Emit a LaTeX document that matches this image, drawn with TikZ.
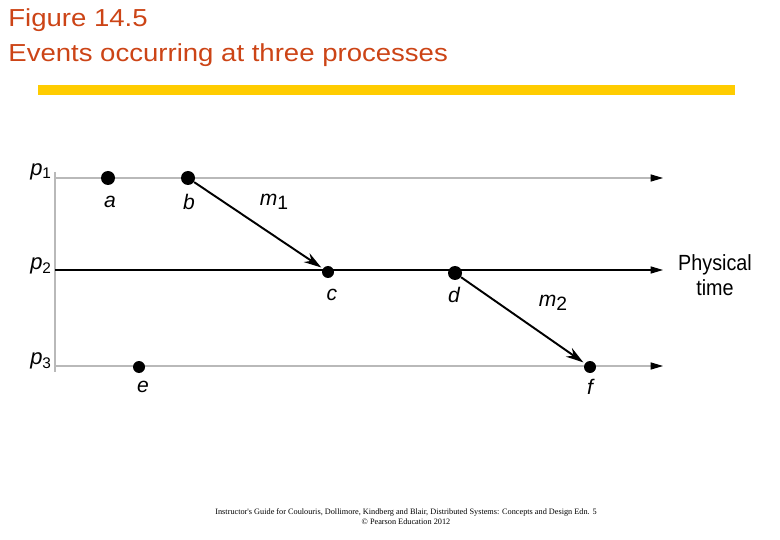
\documentclass[tikz,border=0pt]{standalone}
\usepackage{fontspec}
\setmainfont{Liberation Sans}
\newfontfamily\footfont{Liberation Serif}
\usepackage{xcolor}
\usetikzlibrary{arrows.meta}
\definecolor{titlered}{RGB}{204,68,22}
\definecolor{baryellow}{RGB}{255,204,0}
\definecolor{linegray}{RGB}{185,185,185}

\begin{document}
\begin{tikzpicture}[x=0.02cm,y=-0.02cm,
        heading/.style={anchor=base west,inner sep=0pt,text=titlered,xscale=1.12,font=\fontsize{14}{15}\selectfont},
        event/.style={circle,fill=black,inner sep=0pt,minimum size=14*0.02cm},
        smallevent/.style={event,minimum size=12*0.02cm},
        evlabel/.style={font=\fontsize{12}{12}\selectfont\itshape},
        proc/.style={font=\fontsize{12.5}{12}\selectfont\itshape,anchor=east,inner sep=1pt},
        timeline/.style={line width=0.6pt,-{Triangle[length=7pt,width=4pt,color=black]}},
        msg/.style={line width=1.1pt,-{Stealth[length=10pt,width=6pt]},shorten >=1pt}]
    \useasboundingbox (0,0) rectangle (780,540);
    % heading
    \node[heading] (fig) at (8,27) {Figure 14.5};
    \node[heading] (events) at (8,62) {Events occurring at three processes};
    \fill[baryellow] (38,85) rectangle (735,95);
    % processes
    \coordinate (top) at (55,172);
    \coordinate (bot) at (55,372);
    \draw[linegray,line width=0.6pt] (top) -- (bot);
    \coordinate (s1) at (55,178);
    \coordinate (e1) at (663,178);
    \coordinate (s2) at (55,270);
    \coordinate (e2) at (663,270);
    \coordinate (s3) at (55,366);
    \coordinate (e3) at (663,366);
    \draw[timeline,linegray] (s1) -- (e1);
    \draw[timeline,black] (s2) -- (e2);
    \draw[timeline,linegray] (s3) -- (e3);
    \node[proc] (p1) at (54,172) {$\mathit{p}_{\mathrm{1}}$};
    \node[proc] (p2) at (54,266) {$\mathit{p}_{\mathrm{2}}$};
    \node[proc] (p3) at (54,361) {$\mathit{p}_{\mathrm{3}}$};
    % events
    \node[event] (a) at (108,178) {};
    \node[event] (b) at (188,178) {};
    \node[smallevent] (c) at (328,272) {};
    \node[event] (d) at (455,273) {};
    \node[smallevent] (e) at (139,367) {};
    \node[smallevent] (f) at (590,367) {};
    \node[evlabel] (la) at (110,202) {a};
    \node[evlabel] (lb) at (189,202) {b};
    \node[evlabel] (lc) at (332,295) {c};
    \node[evlabel] (ld) at (454,295) {d};
    \node[evlabel] (le) at (143,387) {e};
    \node[evlabel] (lf) at (590,387) {f};
    % messages
    \draw[msg] (b) -- (c);
    \draw[msg] (d) -- (f);
    \node[evlabel] (m1) at (274,202) {m\raisebox{-0.35ex}{\fontsize{11}{11}\selectfont\upshape 1}};
    \node[evlabel] (m2) at (553,303) {m\raisebox{-0.35ex}{\fontsize{11}{11}\selectfont\upshape 2}};
    \node[align=center,xscale=0.9,font=\fontsize{12.5}{14}\selectfont] (phys) at (715,275) {Physical\\time};
    % footer
    \node[font=\footfont\fontsize{4.7}{5.6}\selectfont,align=center] (foot) at (406,517)
        {Instructor's Guide for  Coulouris, Dollimore, Kindberg and Blair,  Distributed Systems: Concepts and Design   Edn. 5\\ \copyright{}  Pearson Education 2012};
\end{tikzpicture}
\end{document}
